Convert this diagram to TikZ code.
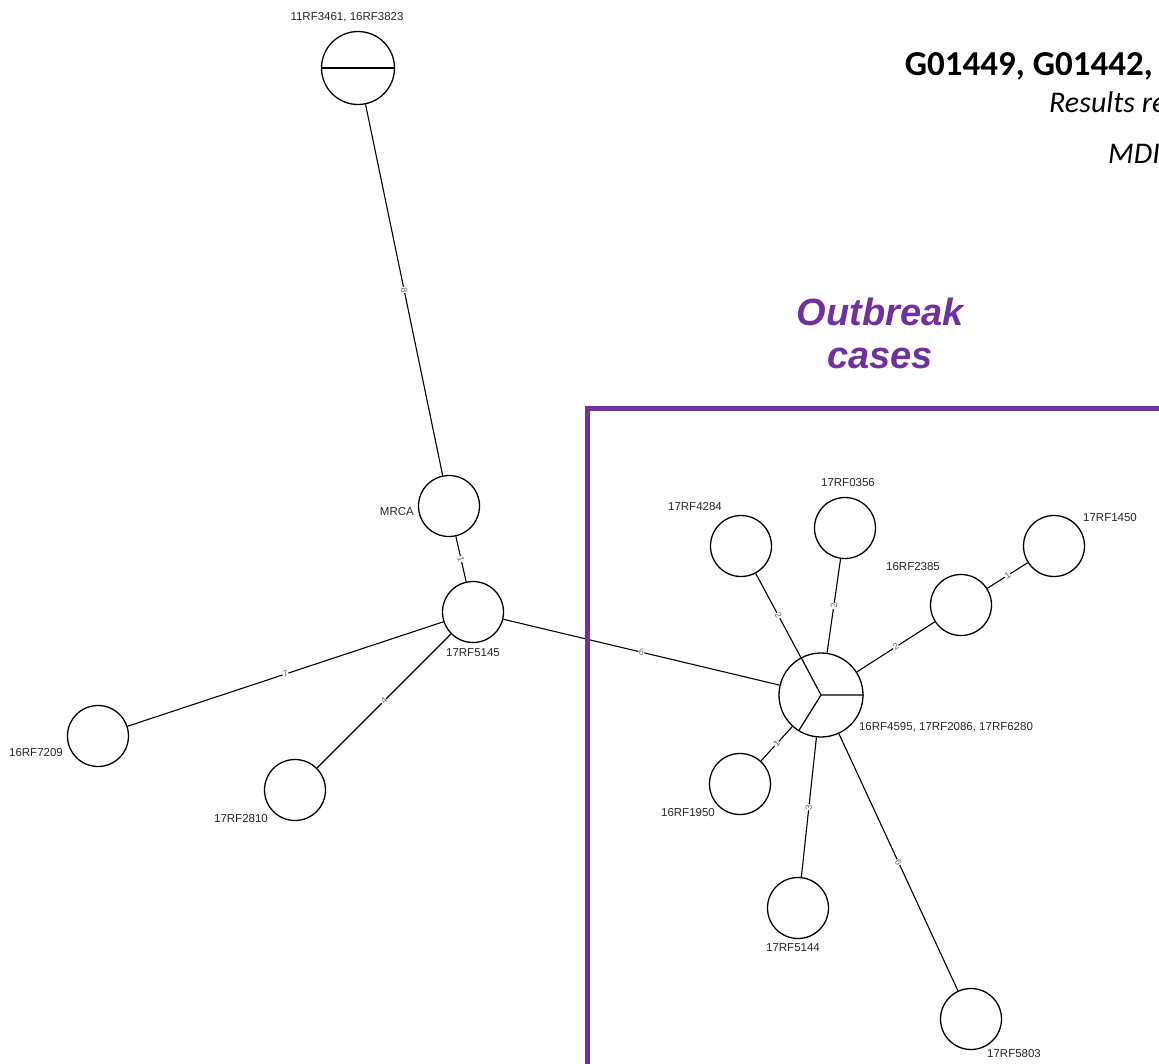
\documentclass[tikz,border=0pt]{standalone}
\usepackage{fontspec}
\setmainfont{Liberation Sans}
\newfontfamily\calibri{Carlito}
\definecolor{outbreak}{HTML}{7030A0}
\tikzset{
  hap/.style={circle,draw,line width=1.3pt,minimum size=61pt,inner sep=0pt},
  idlabel/.style={font=\fontsize{11.5}{12}\selectfont,text=black!85,inner sep=0pt},
  mut/.style={font=\fontsize{9}{9}\selectfont,text=black!60,fill=white,inner sep=0.5pt,sloped},
  link/.style={draw,line width=1.1pt},
}
\begin{document}
\begin{tikzpicture}[x=1pt,y=-1pt]
\useasboundingbox (0,0) rectangle (1159,1063);
\clip (0,0) rectangle (1159,1063);
% haplotypes
\node[hap,minimum size=73pt] (h3461) at (358,68) {};
\draw[line width=1.2pt] (h3461.west) -- (h3461.east);
\node[hap] (mrca) at (449,506) {};
\node[hap] (h5145) at (473,612) {};
\node[hap] (h7209) at (98,736) {};
\node[hap] (h2810) at (295,790) {};
\node[hap,minimum size=84pt] (h4595) at (821,695) {};
\draw[line width=1.2pt] (h4595.center) -- (h4595.east)
    (h4595.center) -- (h4595.118)
    (h4595.center) -- (h4595.238);
\foreach \n/\x/\y in {4284/741/546, 0356/845/528, 2385/961/605, 1450/1054/546,
    1950/740/784, 5144/798/908, 5803/971/1019} {
    \node[hap] (h\n) at (\x,\y) {};
}
% sample names
\foreach \n/\x/\y/\t in {3461/347/17/{11RF3461, 16RF3823}, 5145/473/653/17RF5145,
    7209/36/753/16RF7209, 2810/241/819/17RF2810, 4284/695/507/17RF4284,
    0356/848/483/17RF0356, 2385/913/567/16RF2385, 1450/1110/518/17RF1450,
    4595/946/727/{16RF4595, 17RF2086, 17RF6280}, 1950/688/813/16RF1950,
    5144/793/948/17RF5144, 5803/1014/1054/17RF5803} {
    \node[idlabel] (l\n) at (\x,\y) {\t};
}
\node[idlabel,anchor=east] (lmrca) at (414,512) {MRCA};
% links with number of differences
\path
    (h3461) edge[link] node[mut] {8} (mrca)
    (mrca) edge[link] node[mut] {1} (h5145)
    (h5145) edge[link] node[mut] {7} (h7209)
    (h5145) edge[link] node[mut] {4} (h2810)
    (h5145) edge[link] node[mut] {6} (h4595)
    (h4595) edge[link] node[mut] {2} (h4284)
    (h4595) edge[link] node[mut] {2} (h0356)
    (h4595) edge[link] node[mut] {2} (h2385)
    (h2385) edge[link] node[mut] {1} (h1450)
    (h4595) edge[link] node[mut] {1} (h1950)
    (h4595) edge[link] node[mut] {3} (h5144)
    (h4595) edge[link] node[mut] {6} (h5803);
% outbreak box
\draw[outbreak,line width=5pt] (587.5,408) rectangle (1200,1066);
\node[anchor=base,font=\bfseries\itshape\fontsize{38}{43}\selectfont,text=outbreak,inner sep=0pt] (ob1) at (880,325) {Outbreak};
\node[anchor=base,font=\bfseries\itshape\fontsize{38}{43}\selectfont,text=outbreak,inner sep=0pt] (ob2) at (880,368) {cases};
% heading
\node[anchor=base east,font=\calibri\bfseries\fontsize{35}{40}\selectfont,inner sep=0pt] (title) at (1153,75) {G01449, G01442,};
\node[anchor=base west,font=\calibri\itshape\fontsize{30}{32}\selectfont,inner sep=0pt] (res) at (1049,112) {Results re};
\node[anchor=base west,font=\calibri\itshape\fontsize{30}{32}\selectfont,inner sep=0pt] (mdi) at (1108,163) {MDI};
\end{tikzpicture}
\end{document}
